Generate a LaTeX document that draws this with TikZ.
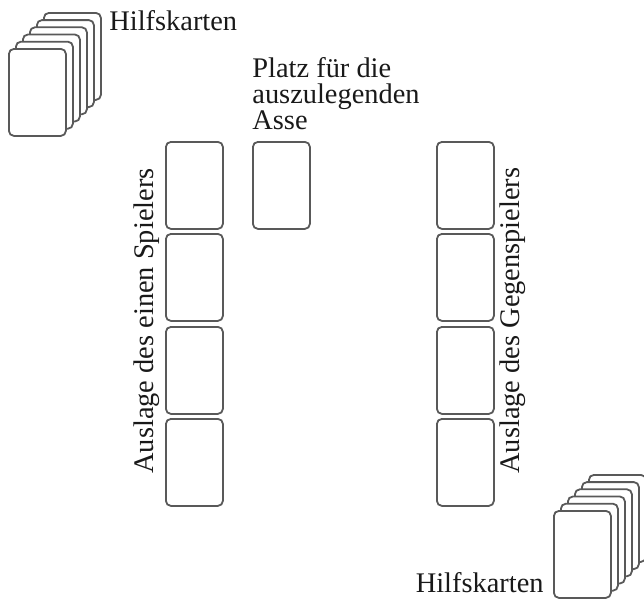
\documentclass[tikz,border=0pt]{standalone}
\usepackage{fontspec}
\setmainfont{Liberation Serif}
\begin{document}
\begin{tikzpicture}[x=0.5pt,y=-0.5pt,
  card/.style={draw=black!65, line width=0.9pt, fill=white, rounded corners=2.5pt,
    minimum width=28.5pt, minimum height=43.5pt, inner sep=0pt, anchor=north west},
  lbl/.style={inner sep=0pt, font=\fontsize{14.2}{13}\selectfont, text=black!90}]
\clip (0,0) rectangle (644,600);
% top-left stack
\foreach \i in {5,4,...,0} {
  \node[card] (s1c\i) at ({8+7*\i},{48-7.2*\i}) {};
}
\node[lbl, anchor=base west] (h1) at (109,30) {Hilfskarten};
% bottom-right stack
\foreach \i in {5,4,...,0} {
  \node[card] (s2c\i) at ({553+7*\i},{510-7.2*\i}) {};
}
\node[lbl, anchor=base east] (h2) at (544,592) {Hilfskarten};
% left column
\node[card] (l1) at (165,141) {};
\node[card] (l2) at (165,233) {};
\node[card] (l3) at (165,326) {};
\node[card] (l4) at (165,418) {};
% ace
\node[card] (a1) at (252,141) {};
% right column
\node[card] (r1) at (436,141) {};
\node[card] (r2) at (436,233) {};
\node[card] (r3) at (436,326) {};
\node[card] (r4) at (436,418) {};
% labels
\node[lbl, align=left, anchor=north west] (pl) at (252,57) {Platz für die\\auszulegenden\\Asse};
\node[lbl, rotate=90, anchor=base west] (tl) at (153,474) {Auslage des einen Spielers};
\node[lbl, rotate=90, anchor=base west] (tr) at (519,474) {Auslage des Gegenspielers};
\end{tikzpicture}
\end{document}
